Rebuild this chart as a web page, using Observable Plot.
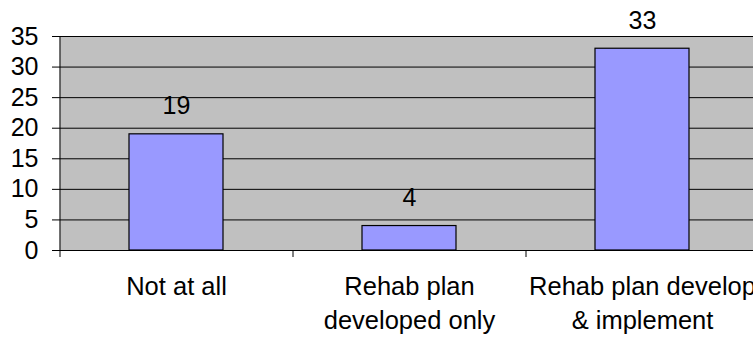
<!DOCTYPE html>
<html>
<head>
<meta charset="utf-8">
<script src="https://cdn.jsdelivr.net/npm/d3@7"></script>
<script src="https://cdn.jsdelivr.net/npm/@observablehq/plot@0.6"></script>
<style>
  html, body { margin: 0; padding: 0; background: #fff; overflow: hidden; }
  #chart svg { display: block; }
</style>
</head>
<body>
<div id="chart"></div>
<script>
// Responses by rehabilitation status
const categories = ["Not at all", "Rehab plan\ndeveloped only", "Rehab plan develop\n& implement"];
const counts = [19, 4, 33];
const yTicks = [0, 5, 10, 15, 20, 25, 30, 35];

const data = categories.map((c, i) => ({category: c, count: counts[i]}));

const width = 753, height = 337;
const left = 59, right = 758;           // the plot area runs past the right edge
const step = (right - left) / categories.length;
const font = "Liberation Sans, Arial, Helvetica, sans-serif";

const chart = Plot.plot({
  width, height,
  marginLeft: left, marginRight: 0, marginTop: 36, marginBottom: 87,
  style: {fontFamily: font, fontSize: "25px", color: "#000", background: "#fff"},
  x: {domain: categories, range: [left, right], paddingInner: 0.5966, paddingOuter: 0.2983, label: null},
  y: {domain: [0, 35], label: null},
  marks: [
    Plot.frame({fill: "#c0c0c0", stroke: null}),
    Plot.ruleY(yTicks, {stroke: "#000", strokeWidth: 1}),
    Plot.barY(data, {x: "category", y: "count", fill: "#9999ff", stroke: "#000", strokeWidth: 1.2}),
    Plot.text(data, {x: "category", y: "count", text: d => String(d.count), dy: -20, lineAnchor: "bottom", fontSize: 25, fill: "#000"}),
    // left axis line
    Plot.ruleX([0], {x: () => categories[0], dx: -step / 2, y1: 35, y2: 0, stroke: "#000"}),
    // tick marks on the category boundaries
    Plot.axisX({tickSize: 7, dx: -step / 2, tickFormat: () => "", stroke: "#000"}),
    // category labels
    Plot.axisX({tickSize: 0, tickPadding: 20, lineHeight: 1.35, fontSize: 25.5, fill: "#000", label: null}),
    Plot.axisY({ticks: yTicks, tickSize: 7, tickPadding: 14, fontSize: 25, fill: "#000", stroke: "#000", label: null})
  ]
});

document.getElementById("chart").append(chart);
</script>
</body>
</html>
